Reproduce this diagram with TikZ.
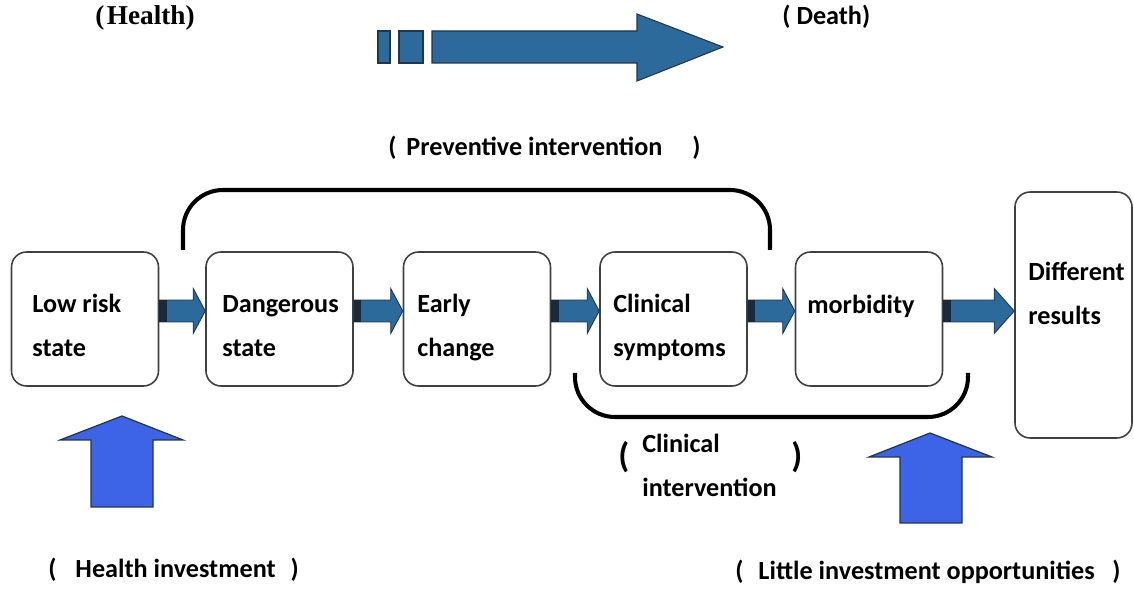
\documentclass[tikz,border=0pt]{standalone}
\usepackage{fontspec}
\setmainfont{Carlito}
\newfontfamily\serifbold{Liberation Serif}
\usetikzlibrary{calc}
\definecolor{flowblue}{HTML}{2C6A9C}
\definecolor{flowdark}{HTML}{1B2A38}
\definecolor{upblue}{HTML}{3D64E6}
\definecolor{edgeblue}{HTML}{1F3550}
\definecolor{boxline}{HTML}{404040}
\tikzset{
  stage/.style={draw=boxline, line width=0.9pt, rounded corners=0.3cm, fill=white, minimum width=2.94cm, minimum height=2.68cm, inner sep=0pt},
  stagetext/.style={anchor=base west, inner sep=0pt, font=\fontsize{14.9}{25}\selectfont\bfseries},
  lbl/.style={anchor=base west, inner sep=0pt, font=\fontsize{14.9}{25}\selectfont\bfseries},
  flowshape/.style={fill=flowblue, draw=edgeblue, line width=0.5pt},
  bracket/.style={draw=black, line width=2.3pt, rounded corners=0.8cm},
  uparrow/.style={fill=upblue, draw=edgeblue, line width=0.7pt, line join=miter},
}
\newcommand\flowarrow[3]{%
  \path[flowshape] let \p1=($(#1.east)+(0,-8)$), \p2=($(#2.west)+(0,-8)$) in
    (\x1,\y1-0.22cm) -- (\x2-#3,\y1-0.22cm) -- (\x2-#3,\y1-0.45cm) -- (\x2,\y1)
    -- (\x2-#3,\y1+0.45cm) -- (\x2-#3,\y1+0.22cm) -- (\x1,\y1+0.22cm) -- cycle;
  \fill[flowdark] let \p1=($(#1.east)+(0,-8)$) in
    (\x1,\y1-0.22cm) rectangle (\x1+0.15cm,\y1+0.22cm);
}
\begin{document}
\begin{tikzpicture}[x=0.02cm, y=-0.02cm]
\useasboundingbox[fill=white] (0,0) rectangle (1134,591);

% top labels
\node[lbl, font=\fontsize{15.5}{25}\selectfont\serifbold\bfseries] (health) at (95,25) {(\hspace{0.05cm}Health)};
\node[lbl] (death) at (782,25) {(\hspace{0.12cm}Death)};

% big top arrow
\fill[flowblue, draw=edgeblue, line width=0.6pt] (378,31) rectangle (390,63);
\fill[flowblue, draw=edgeblue, line width=0.6pt] (399,31) rectangle (423,63);
\fill[flowblue, draw=edgeblue, line width=0.6pt]
  (432,31) -- (637,31) -- (637,14) -- (723,47) -- (637,81) -- (637,63) -- (432,63) -- cycle;

% preventive label and bracket
\node[lbl] (prev) at (388,156) {(\hspace{0.2cm}Preventive intervention\hspace{0.6cm})};
\draw[bracket] (183,250) -- (183,190) -- (770,190) -- (770,250);

% stages
\node[stage] (low) at (85,319) {};
\node[stage] (dang) at (279.5,319) {};
\node[stage] (early) at (477,319) {};
\node[stage] (clin) at (673.5,319) {};
\node[stage] (morb) at (869,319) {};
\node[stage, minimum width=2.34cm, minimum height=4.92cm] (diff) at (1073.5,315) {};

\node[stagetext] (lowt) at (32,313) {\begin{tabular}[t]{@{}l@{}}Low risk\\state\end{tabular}};
\node[stagetext] (dangt) at (222,313) {\begin{tabular}[t]{@{}l@{}}Dangerous\\state\end{tabular}};
\node[stagetext] (earlyt) at (417,313) {\begin{tabular}[t]{@{}l@{}}Early\\change\end{tabular}};
\node[stagetext] (clint) at (613,313) {\begin{tabular}[t]{@{}l@{}}Clinical\\symptoms\end{tabular}};
\node[stagetext] (morbt) at (807,314) {morbidity};
\node[stagetext] (difft) at (1028,281) {\begin{tabular}[t]{@{}l@{}}Different\\results\end{tabular}};

% flow arrows
\flowarrow{low}{dang}{0.24cm}
\flowarrow{dang}{early}{0.24cm}
\flowarrow{early}{clin}{0.24cm}
\flowarrow{clin}{morb}{0.24cm}
\flowarrow{morb}{diff}{0.4cm}

% clinical bracket and label
\draw[bracket] (575,373) -- (575,417) -- (968,417) -- (968,373);
\node[lbl, font=\fontsize{20}{25}\selectfont\bfseries] (clpl) at (618,468) {(};
\node[lbl] (clt) at (642,453) {\begin{tabular}[t]{@{}l@{}}Clinical\\intervention\end{tabular}};
\node[lbl, font=\fontsize{20}{25}\selectfont\bfseries] (clpr) at (791,468) {)};

% up arrows
\path[uparrow] (91,507) -- (91,440) -- (60,440) -- (122,416) -- (183,440) -- (153,440) -- (153,507) -- cycle;
\path[uparrow] (900,523) -- (900,457) -- (869,457) -- (930,433) -- (992,457) -- (962,457) -- (962,523) -- cycle;

% bottom labels
\node[lbl] (hinv) at (48,578) {(\hspace{0.38cm}Health investment\hspace{0.3cm})};
\node[lbl] (linv) at (735,580) {(\hspace{0.3cm}Little investment opportunities\hspace{0.35cm})};
\end{tikzpicture}
\end{document}
